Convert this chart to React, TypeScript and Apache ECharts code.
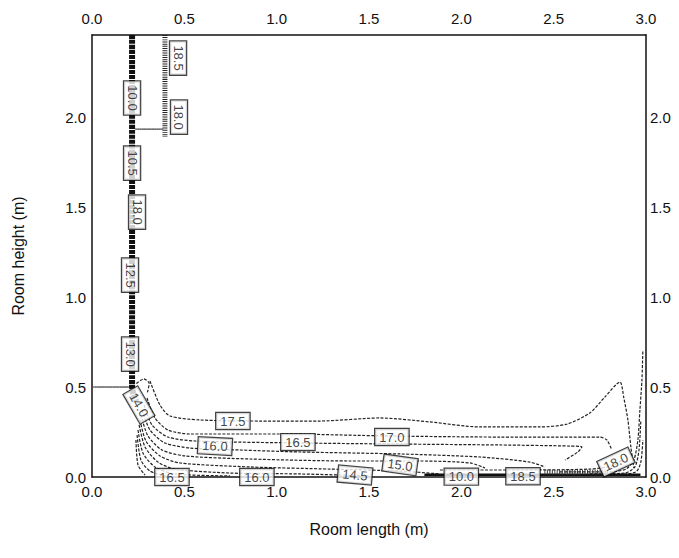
import React, { useEffect, useRef } from "react";
import * as echarts from "echarts";

// Axis ticks
const xTicks = [0, 0.5, 1.0, 1.5, 2.0, 2.5, 3.0];
const yTicks = [0, 0.5, 1.0, 1.5, 2.0];
const yMax = 2.456;

// Contour lines (x, y) in metres
const contour175: [number, number][] = [
  [0.314, 0.533], [0.368, 0.4], [0.422, 0.339], [0.585, 0.317], [0.91, 0.311], [1.234, 0.311],
  [1.559, 0.328], [1.83, 0.306], [2.101, 0.278], [2.426, 0.278], [2.572, 0.294], [2.696, 0.356],
  [2.777, 0.444], [2.859, 0.528], [2.88, 0.439], [2.902, 0.317], [2.918, 0.167], [2.934, 0.05],
];
const contour170: [number, number][] = [
  [0.298, 0.439], [0.341, 0.328], [0.411, 0.261], [0.531, 0.239], [1.018, 0.239], [1.613, 0.228],
  [2.209, 0.222], [2.75, 0.222], [2.788, 0.206], [2.815, 0.15],
];
const contour165: [number, number][] = [
  [0.282, 0.4], [0.325, 0.289], [0.411, 0.222], [0.558, 0.2], [1.126, 0.189], [1.668, 0.183],
  [2.209, 0.178], [2.588, 0.172], [2.653, 0.167], [2.631, 0.139], [2.561, 0.094],
];
const contour160: [number, number][] = [
  [0.271, 0.372], [0.314, 0.261], [0.395, 0.189], [0.531, 0.161], [0.801, 0.15], [1.126, 0.139],
  [1.668, 0.128], [2.101, 0.111], [2.371, 0.083], [2.453, 0.056],
];
const contour155: [number, number][] = [
  [0.265, 0.344], [0.303, 0.228], [0.379, 0.15], [0.504, 0.117], [0.855, 0.1], [1.397, 0.089],
  [1.776, 0.089], [2.047, 0.078], [2.128, 0.05],
];
const contour150: [number, number][] = [
  [0.26, 0.317], [0.292, 0.2], [0.368, 0.117], [0.476, 0.078], [0.855, 0.056], [1.289, 0.044],
  [1.668, 0.033], [1.884, 0.017],
];
const contour145: [number, number][] = [
  [0.255, 0.289], [0.287, 0.167], [0.357, 0.083], [0.449, 0.044], [0.747, 0.022], [1.126, 0.017],
  [1.505, 0.006],
];
const contour140: [number, number][] = [
  [0.249, 0.261], [0.276, 0.133], [0.341, 0.056], [0.449, 0.017], [0.747, 0.006],
];
const contour135: [number, number][] = [
  [0.244, 0.233], [0.265, 0.094], [0.314, 0.033], [0.395, 0.006],
];
const contour130: [number, number][] = [
  [0.238, 0.206], [0.249, 0.067], [0.287, 0.011],
];
const cornerLoop: [number, number][] = [
  [0.24, 0.52], [0.28, 0.545], [0.31, 0.52], [0.3, 0.47],
];
const wallRight1: [number, number][] = [
  [2.534, 0.028], [2.805, 0.028], [2.891, 0.044], [2.934, 0.094], [2.956, 0.206], [2.967, 0.372],
  [2.978, 0.539], [2.983, 0.706],
];
const wallRight2: [number, number][] = [
  [2.696, 0.017], [2.886, 0.022], [2.94, 0.056], [2.962, 0.15], [2.972, 0.317],
];
const wallRight3: [number, number][] = [
  [2.832, 0.011], [2.945, 0.028], [2.972, 0.083], [2.983, 0.206],
];
const floor185: [number, number][] = [
  [1.884, 0.039], [2.317, 0.039], [2.696, 0.044], [2.815, 0.061], [2.869, 0.094],
];
// Dense bands (drawn as thick hatched lines)
const leftBand: [number, number][] = [
  [0.217, yMax], [0.217, 0.5], [0.225, 0.46], [0.24, 0.42],
];
const rightBand: [number, number][] = [[0.395, yMax], [0.395, 1.889]];
const floorBand: [number, number][] = [[1.8, 0.012], [2.97, 0.012]];
const floorHatch: [number, number][] = [[2.45, 0.026], [2.8, 0.026]];
const ledge05: [number, number][] = [[0.005, 0.5], [0.217, 0.5]];
const ledge19: [number, number][] = [[0.233, 1.933], [0.385, 1.933]];

// Contour labels
const labelTexts = ["10.0", "10.5", "18.0", "12.5", "13.0", "14.0", "18.5", "18.0", "17.5", "16.0", "16.5", "17.0", "16.5", "16.0", "14.5", "15.0", "10.0", "18.5", "18.0"];
const labelX = [0.217, 0.217, 0.244, 0.206, 0.206, 0.254, 0.466, 0.471, 0.763, 0.666, 1.115, 1.624, 0.433, 0.893, 1.424, 1.668, 2.0, 2.334, 2.837];
const labelY = [2.106, 1.744, 1.472, 1.122, 0.683, 0.4, 2.328, 2.0, 0.311, 0.172, 0.194, 0.222, 0.0, 0.0, 0.011, 0.067, 0.002, 0.004, 0.083];
const labelAngle = [-90, -90, -90, -90, -90, -60, -90, -90, 0, -3, 0, 0, 0, 0, -5, -8, 0, 0, 25];

const FONT = "'Liberation Sans', Arial, Helvetica, sans-serif";

export default function App() {
  const ref = useRef<HTMLDivElement>(null);
  useEffect(() => {
    if (!ref.current) return;
    const chart = echarts.init(ref.current, undefined, { renderer: "svg" });
    const dashed = (d: [number, number][], smooth = 0.25) => ({
      type: "line",
      data: d,
      showSymbol: false,
      smooth,
      silent: true,
      z: 2,
      lineStyle: { color: "#222", width: 1.2, type: [3, 1.5] },
    });
    const solid = (d: [number, number][], width: number, dash: any, color = "#111") => ({
      type: "line",
      data: d,
      showSymbol: false,
      smooth: 0.2,
      silent: true,
      z: 3,
      lineStyle: { color, width, type: dash },
    });
    const tickFmt = (v: number) => (Math.abs(v / 0.5 - Math.round(v / 0.5)) < 1e-6 ? v.toFixed(1) : "");
    const axisCommon = {
      type: "value",
      axisTick: { show: false },
      splitLine: { show: false },
      axisLine: { show: true, onZero: false, lineStyle: { color: "#111", width: 1.5 } },
    };
    const labelStyle = { color: "#111", fontSize: 15, fontFamily: FONT };
    chart.setOption({
      animation: false,
      backgroundColor: "#fff",
      grid: { left: 92, right: 33, top: 35, bottom: 81 },
      xAxis: [
        {
          ...axisCommon,
          position: "bottom",
          min: 0,
          max: 3,
          interval: 0.5,
          axisLabel: { ...labelStyle, margin: 7, formatter: tickFmt },
          name: "Room length (m)",
          nameLocation: "middle",
          nameGap: 44,
          nameTextStyle: { color: "#111", fontSize: 16, fontFamily: FONT },
        },
        {
          ...axisCommon,
          position: "top",
          min: 0,
          max: 3,
          interval: 0.5,
          axisLabel: { ...labelStyle, margin: 9, formatter: tickFmt },
        },
      ],
      yAxis: [
        {
          ...axisCommon,
          position: "left",
          min: 0,
          max: yMax,
          interval: 0.5,
          axisLabel: { ...labelStyle, margin: 6, formatter: tickFmt },
          name: "Room height (m)",
          nameLocation: "middle",
          nameGap: 66,
          nameRotate: 90,
          nameTextStyle: { color: "#111", fontSize: 16, fontFamily: FONT },
        },
        {
          ...axisCommon,
          position: "right",
          min: 0,
          max: yMax,
          interval: 0.5,
          axisLabel: { ...labelStyle, margin: 4, formatter: tickFmt },
        },
      ],
      series: [
        dashed(contour175),
        dashed(contour170),
        dashed(contour165),
        dashed(contour160),
        dashed(contour155),
        dashed(contour150),
        dashed(contour145),
        dashed(contour140),
        dashed(contour135),
        dashed(contour130),
        dashed(cornerLoop),
        dashed(wallRight1),
        dashed(wallRight2),
        dashed(wallRight3),
        dashed(floor185),
        solid(leftBand, 6, [4, 1]),
        solid(rightBand, 5, [1, 1.2], "#222"),
        solid(floorBand, 2.5, "solid"),
        solid(floorHatch, 5, [1, 1.5], "#333"),
        solid(ledge05, 1, "solid"),
        solid(ledge19, 1, "solid"),
        {
          type: "scatter",
          symbolSize: 0,
          silent: true,
          z: 10,
          clip: false,
          data: labelTexts.map((t, i) => ({
            name: t,
            value: [labelX[i], labelY[i]],
            label: { rotate: labelAngle[i] },
          })),
          label: {
            show: true,
            position: "inside",
            formatter: (p: any) => p.name,
            color: "#111",
            fontSize: 13,
            fontFamily: FONT,
            backgroundColor: "#fff",
            borderColor: "#111",
            borderWidth: 1.2,
            padding: [2, 4, 1, 4],
          },
        },
      ],
    });
    return () => chart.dispose();
  }, []);
  return (
    <div
      ref={ref}
      style={{ position: "fixed", left: 0, top: 0, width: 679, height: 558 }}
    />
  );
}
